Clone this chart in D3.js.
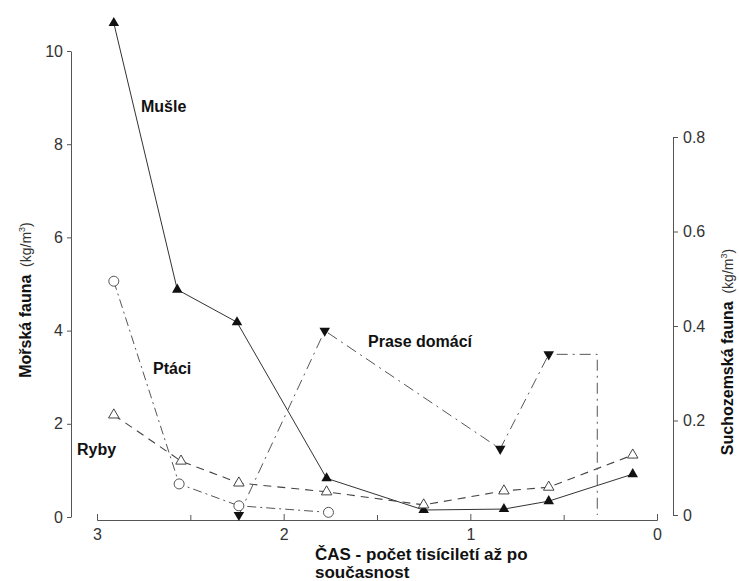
<!DOCTYPE html>
<html>
<head>
<meta charset="utf-8">
<script src="https://cdn.jsdelivr.net/npm/d3@7"></script>
<style>
  body { margin: 0; background: #fff; }
  svg { font-family: "Liberation Sans", Arial, sans-serif; }
</style>
</head>
<body>
<div id="chart"></div>
<script>
// time in thousands of years before present
var musleX = [2.91, 2.57, 2.25, 1.77, 1.25, 0.82, 0.58, 0.13];
var musleY = [10.6, 4.88, 4.18, 0.83, 0.15, 0.17, 0.34, 0.92];

var ptaciX = [2.91, 2.56, 2.24, 1.76];
var ptaciY = [5.06, 0.71, 0.24, 0.1];

var rybyX = [2.91, 2.55, 2.24, 1.77, 1.25, 0.82, 0.58, 0.13];
var rybyY = [2.19, 1.2, 0.73, 0.54, 0.26, 0.56, 0.64, 1.33];

var praseX = [2.24, 1.78, 0.84, 0.58];
var praseY = [0.0, 0.39, 0.14, 0.34];
// the pig line runs on to the present and drops to zero
var praseEndX = [0.32, 0.32];
var praseEndY = [0.34, 0.0];

var xTicks = [3, 2, 1, 0];
var xMinorTicks = [2.5, 1.5, 0.5];
var leftTicks = [0, 2, 4, 6, 8, 10];
var rightTicks = [0, 0.2, 0.4, 0.6, 0.8];

var width = 739, height = 581;

var svg = d3.select("#chart").append("svg")
    .attr("width", width)
    .attr("height", height);

var x = d3.scaleLinear().domain([3, 0]).range([97, 657]);
var yL = d3.scaleLinear().domain([0, 10]).range([517, 51]);
var yR = d3.scaleLinear().domain([0, 0.8]).range([515, 137]);

var axisColor = "#555";

// x axis
svg.append("g")
    .attr("transform", "translate(0,520)")
    .call(d3.axisBottom(x).tickValues(xTicks).tickSize(-6).tickPadding(9).tickFormat(d3.format("d")));
svg.append("g")
    .attr("transform", "translate(0,520)")
    .call(d3.axisBottom(x).tickValues(xMinorTicks).tickSize(-5).tickFormat(""))
    .select(".domain").remove();

// left axis
svg.append("g")
    .attr("transform", "translate(71,0)")
    .call(d3.axisLeft(yL).tickValues(leftTicks).tickSize(4).tickSizeOuter(0).tickPadding(4));

// right axis
svg.append("g")
    .attr("transform", "translate(673,0)")
    .call(d3.axisRight(yR).tickValues(rightTicks).tickSize(5).tickSizeOuter(0).tickPadding(5)
        .tickFormat(function(d) { return d === 0 ? "0" : d3.format(".1f")(d); }));

svg.selectAll(".domain").attr("stroke", axisColor);
svg.selectAll(".tick line").attr("stroke", axisColor);
svg.selectAll(".tick text")
    .attr("fill", "#333")
    .style("font-size", "16px")
    .style("font-family", "'Liberation Sans', Arial, sans-serif");

// series lines
function pts(xs, ys) {
    return xs.map(function(v, i) { return [v, ys[i]]; });
}

var lineL = d3.line().x(function(d) { return x(d[0]); }).y(function(d) { return yL(d[1]); });
var lineR = d3.line().x(function(d) { return x(d[0]); }).y(function(d) { return yR(d[1]); });

var musle = pts(musleX, musleY);
var ptaci = pts(ptaciX, ptaciY);
var ryby = pts(rybyX, rybyY);
var prase = pts(praseX, praseY);
var praseAll = prase.concat(pts(praseEndX, praseEndY));

svg.append("path").datum(musle)
    .attr("d", lineL).attr("fill", "none").attr("stroke", "#333").attr("stroke-width", 1);
svg.append("path").datum(ptaci)
    .attr("d", lineL).attr("fill", "none").attr("stroke", "#555").attr("stroke-width", 1)
    .attr("stroke-dasharray", "9,4,2,4");
svg.append("path").datum(ryby)
    .attr("d", lineL).attr("fill", "none").attr("stroke", "#444").attr("stroke-width", 1.1)
    .attr("stroke-dasharray", "8,6");
svg.append("path").datum(praseAll)
    .attr("d", lineR).attr("fill", "none").attr("stroke", "#555").attr("stroke-width", 1)
    .attr("stroke-dasharray", "11,5,2,5");

// markers
var tri = d3.symbol().type(d3.symbolTriangle).size(48);

svg.selectAll(".m-musle").data(musle).enter().append("path")
    .attr("class", "m-musle")
    .attr("d", tri)
    .attr("transform", function(d) { return "translate(" + x(d[0]) + "," + yL(d[1]) + ")"; })
    .attr("fill", "#111");

svg.selectAll(".m-ryby").data(ryby).enter().append("path")
    .attr("class", "m-ryby")
    .attr("d", tri)
    .attr("transform", function(d) { return "translate(" + x(d[0]) + "," + yL(d[1]) + ")"; })
    .attr("fill", "#fff").attr("stroke", "#444").attr("stroke-width", 1);

svg.selectAll(".m-ptaci").data(ptaci).enter().append("circle")
    .attr("class", "m-ptaci")
    .attr("cx", function(d) { return x(d[0]); })
    .attr("cy", function(d) { return yL(d[1]); })
    .attr("r", 5)
    .attr("fill", "#fff").attr("stroke", "#555").attr("stroke-width", 1);

svg.selectAll(".m-prase").data(prase).enter().append("path")
    .attr("class", "m-prase")
    .attr("d", tri)
    .attr("transform", function(d) { return "translate(" + x(d[0]) + "," + yR(d[1]) + ") rotate(180)"; })
    .attr("fill", "#111");

// series labels
function label(txt, px, py) {
    svg.append("text")
        .attr("x", px).attr("y", py)
        .style("font-size", "16px").style("font-weight", "bold")
        .attr("fill", "#111")
        .text(txt);
}
label("Mušle", 141, 112);
label("Ptáci", 153, 374);
label("Ryby", 77, 455);
label("Prase domácí", 368, 347);

// x axis title
svg.append("text")
    .attr("x", 315).attr("y", 560)
    .style("font-size", "17px").style("font-weight", "bold").attr("fill", "#111")
    .text("ČAS - počet tisíciletí až po");
svg.append("text")
    .attr("x", 315).attr("y", 578)
    .style("font-size", "17px").style("font-weight", "bold").attr("fill", "#111")
    .text("současnost");

// y axis titles
function yTitle(cx, cy, name) {
    var t = svg.append("text")
        .attr("transform", "translate(" + cx + "," + cy + ") rotate(-90)")
        .attr("text-anchor", "middle")
        .attr("fill", "#111");
    t.append("tspan").style("font-size", "16px").style("font-weight", "bold").text(name);
    t.append("tspan").style("font-size", "14px").attr("fill", "#333").text("\u00a0\u00a0(kg/m");
    t.append("tspan").style("font-size", "9px").attr("fill", "#333").attr("dy", "-6").text("3");
    t.append("tspan").style("font-size", "14px").attr("fill", "#333").attr("dy", "6").text(")");
}
yTitle(31, 300, "Mořská fauna");
yTitle(733, 352, "Suchozemská fauna");
</script>
</body>
</html>
